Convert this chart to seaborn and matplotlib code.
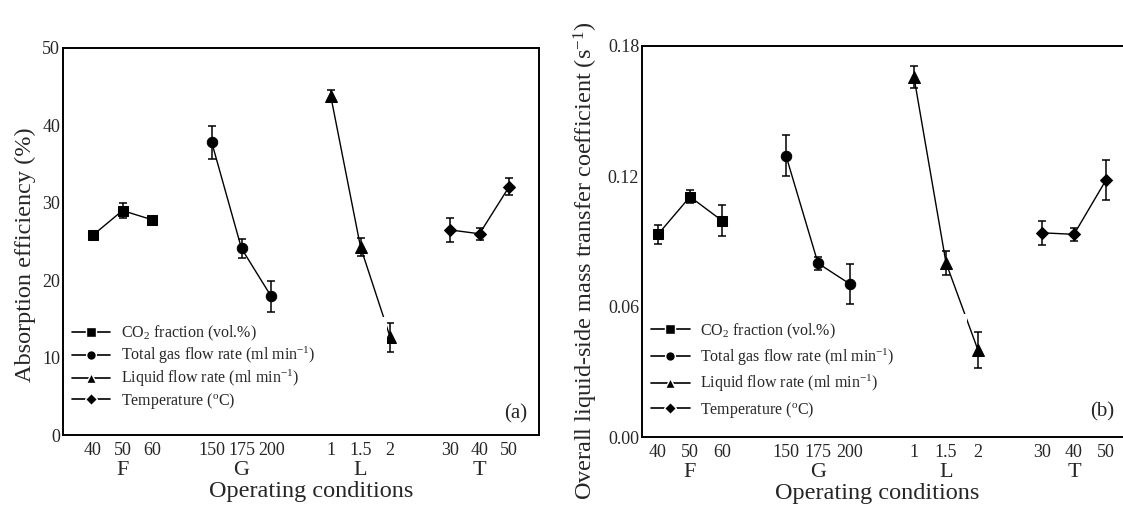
import numpy as np
import pandas as pd
import matplotlib
matplotlib.use("Agg")
import matplotlib.pyplot as plt
from matplotlib.lines import Line2D
import seaborn as sns

# ---------------- data ----------------
groups = ["F", "G", "L", "T"]
tick_labels = ["40", "50", "60", "150", "175", "200", "1", "1.5", "2", "30", "40", "50"]
legend_labels = [r"CO$_2$ fraction (vol.%)",
                 r"Total gas flow rate (ml min$^{-1}$)",
                 r"Liquid flow rate (ml min$^{-1}$)",
                 r"Temperature ($^{\mathrm{o}}$C)"]

eff_F = [25.8, 29.0, 27.8]
eff_G = [37.8, 24.1, 17.9]
eff_L = [43.8, 24.3, 12.6]
eff_T = [26.5, 26.0, 32.1]
eff_err_F = [0.3, 0.95, 0.3]
eff_err_G = [2.1, 1.2, 2.0]
eff_err_L = [0.8, 1.2, 1.9]
eff_err_T = [1.5, 0.8, 1.1]

kl_F = [0.0933, 0.1106, 0.0996]
kl_G = [0.1295, 0.0800, 0.0704]
kl_L = [0.1656, 0.0802, 0.0400]
kl_T = [0.0940, 0.0933, 0.1183]
kl_err_F = [0.0045, 0.0030, 0.0070]
kl_err_G = [0.0095, 0.0030, 0.0093]
kl_err_L = [0.0050, 0.0055, 0.0083]
kl_err_T = [0.0055, 0.0030, 0.0090]

# ---------------- style ----------------
sns.set_style("white")
plt.rcParams["font.family"] = ["Liberation Serif", "DejaVu Serif"]
plt.rcParams["mathtext.fontset"] = "custom"
plt.rcParams["mathtext.rm"] = "Liberation Serif"
plt.rcParams["mathtext.it"] = "Liberation Serif:italic"
plt.rcParams["mathtext.bf"] = "Liberation Serif:bold"
plt.rcParams["axes.edgecolor"] = "black"
plt.rcParams["axes.linewidth"] = 1.4

markers = {"F": "s", "G": "o", "L": "^", "T": "D"}
msizes = {"F": 6.5, "G": 7.5, "L": 8.0, "T": 6.5}
leg_msizes = {"F": 6.5, "G": 7.0, "L": 7.5, "T": 6.5}

W, H = 1123, 517
fig = plt.figure(figsize=(W / 100, H / 100), dpi=100)
axA = fig.add_axes([63 / W, (H - 435) / H, 476 / W, 387 / H])
axB = fig.add_axes([642 / W, (H - 437) / H, 512 / W, 391 / H])


def build_df(vals, errs):
    rows = []
    for gi, g in enumerate(groups):
        for k in range(3):
            rows.append({"group": g, "pos": 1 + 4 * gi + k,
                         "val": vals[gi][k], "err": errs[gi][k]})
    return pd.DataFrame(rows)


def draw_panel(ax, df, xlim, ylim, yticks, yfmt, ylabel, letter, letter_xy,
               leg_bbox, leg_spacing, xlabel_xy, ylabel_xy):
    for g in groups:
        sub = df[df["group"] == g]
        sns.lineplot(data=sub, x="pos", y="val", ax=ax, color="black",
                     marker=markers[g], markersize=msizes[g], markeredgecolor="black",
                     linewidth=1.0, legend=False, zorder=3)
        ax.errorbar(sub["pos"], sub["val"], yerr=sub["err"], fmt="none",
                    ecolor="black", elinewidth=1.1, capsize=3.2, capthick=1.1, zorder=3)
    ax.set_xlim(*xlim)
    ax.set_ylim(*ylim)
    ax.set_yticks(yticks)
    ax.set_yticklabels([yfmt.format(v) for v in yticks])
    ax.xaxis.remove_overlapping_locs = False
    ax.set_xticks(df["pos"].tolist())
    ax.set_xticklabels(tick_labels)
    ax.set_xticks([2, 6, 10, 14], minor=True)
    ax.set_xticklabels(groups, minor=True)
    ax.tick_params(axis="both", which="major", length=0, labelsize=13, pad=5)
    ax.tick_params(axis="y", pad=2)
    ax.tick_params(axis="x", which="minor", length=0, labelsize=16, pad=18.5)
    ax.set_xlabel("Operating conditions", fontsize=17.5)
    ax.xaxis.set_label_coords(*xlabel_xy)
    ax.set_ylabel(ylabel, fontsize=17.5)
    ax.yaxis.set_label_coords(*ylabel_xy)
    for s in ax.spines.values():
        s.set_visible(True)
        s.set_color("black")
    handles = [Line2D([], [], color="black", lw=1.2, marker=markers[g],
                      markersize=leg_msizes[g], markerfacecolor="black",
                      markeredgecolor="white", markeredgewidth=1.0)
               for g in groups]
    leg = ax.legend(handles, legend_labels, loc="lower left", bbox_to_anchor=leg_bbox,
                    mode="expand", fontsize=11.5, frameon=True, fancybox=False,
                    framealpha=1, facecolor="white", edgecolor="none",
                    handlelength=2.4, handletextpad=0.65, labelspacing=leg_spacing,
                    borderpad=0.45, borderaxespad=0)
    leg.set_zorder(5)
    ax.text(letter_xy[0], letter_xy[1], letter, transform=ax.transAxes,
            ha="right", va="center", fontsize=15)


dfA = build_df([eff_F, eff_G, eff_L, eff_T], [eff_err_F, eff_err_G, eff_err_L, eff_err_T])
dfB = build_df([kl_F, kl_G, kl_L, kl_T], [kl_err_F, kl_err_G, kl_err_L, kl_err_T])

draw_panel(axA, dfA, (0, 16), (0, 50), [0, 10, 20, 30, 40, 50], "{:.0f}",
           "Absorption efficiency (%)", "(a)", (0.975, 0.054),
           (0.004, 0.044, 0.676, 0.26), 0.1, (0.521, -0.119), (-0.057, 0.465))
draw_panel(axB, dfB, (0.5, 16.5), (0, 0.18), [0.0, 0.06, 0.12, 0.18], "{:.2f}",
           r"Overall liquid-side mass transfer coefficient (s$^{-1}$)", "(b)",
           (0.922, 0.064), (0.004, 0.025, 0.63, 0.27), 0.35, (0.459, -0.117), (-0.082, 0.45))

fig.savefig("out.png", dpi=100, facecolor="white")
